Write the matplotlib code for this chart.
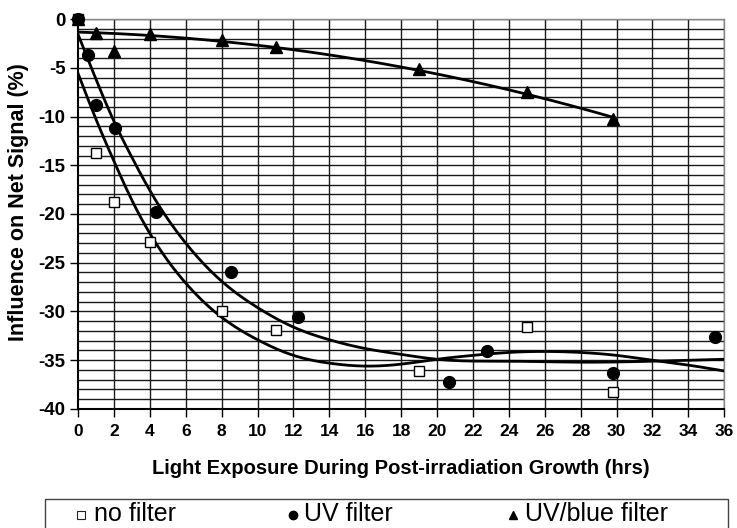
import numpy as np
import matplotlib
matplotlib.use("Agg")
import matplotlib.pyplot as plt
from matplotlib.lines import Line2D
from matplotlib.patches import Rectangle

plt.rcParams['font.family'] = ['Liberation Sans', 'DejaVu Sans']
plt.rcParams['axes.unicode_minus'] = False

# signal loss vs. light exposure, three filter conditions
x_nofilt = [0, 1.0, 2.0, 4.0, 8.0, 11.0, 19.0, 25.0, 29.8]
y_nofilt = [0, -13.7, -18.8, -22.9, -30.0, -31.9, -36.1, -31.6, -38.3]

x_uv = [0, 0.55, 1.0, 2.05, 4.35, 8.5, 12.25, 20.65, 22.8, 29.8, 35.5]
y_uv = [0, -3.7, -8.8, -11.2, -19.8, -25.9, -30.6, -37.2, -34.1, -36.3, -32.6]

x_blue = [0, 1.0, 2.0, 4.0, 8.0, 11.0, 19.0, 25.0, 29.8]
y_blue = [0, -1.4, -3.3, -1.5, -2.2, -2.9, -5.1, -7.5, -10.3]

# trend curves for the two filtered series
trend_x_nofilt = [0, 1, 2, 3, 4, 6, 8, 10, 12, 14, 16, 18, 20, 22, 24, 26,
                  28, 30, 32, 34, 36]
trend_nofilt = [-5.6, -10.3, -14.6, -18.6, -22.0, -27.1, -30.6, -32.9, -34.5,
                -35.3, -35.6, -35.4, -34.9, -34.5, -34.2, -34.1, -34.2, -34.5,
                -35.0, -35.5, -36.1]
trend_x_uv = [0, 1, 2, 3, 4, 6, 8, 10, 12, 14, 16, 18, 20, 24, 28, 32, 36]
trend_uv = [-1.6, -6.2, -10.5, -14.2, -17.6, -23.0, -26.9, -29.6, -31.6,
            -32.9, -33.8, -34.4, -34.9, -35.1, -35.2, -35.1, -34.9]

labels = ['no filter', 'UV filter', 'UV/blue filter']


def smooth(x, y, n=300):
    """natural cubic spline through (x, y)"""
    x, y = np.asarray(x, float), np.asarray(y, float)
    h = np.diff(x)
    k = len(x)
    A = np.zeros((k, k))
    r = np.zeros(k)
    A[0, 0] = A[-1, -1] = 1.
    for i in range(1, k - 1):
        A[i, i - 1] = h[i - 1]
        A[i, i] = 2. * (h[i - 1] + h[i])
        A[i, i + 1] = h[i]
        r[i] = 3. * ((y[i + 1] - y[i]) / h[i] - (y[i] - y[i - 1]) / h[i - 1])
    c = np.linalg.solve(A, r)
    b = (y[1:] - y[:-1]) / h - h * (2. * c[:-1] + c[1:]) / 3.
    d = (c[1:] - c[:-1]) / (3. * h)
    xx = np.linspace(x[0], x[-1], n)
    j = np.clip(np.searchsorted(x, xx) - 1, 0, k - 2)
    t = xx - x[j]
    return xx, y[j] + b[j] * t + c[j] * t ** 2 + d[j] * t ** 3


fig = plt.figure(figsize=(7.37, 5.28), dpi=100)
ax = fig.add_axes([0.106, 0.2254, 0.8766, 0.7386])

for v in np.arange(-40, 1, 1):
    ax.axhline(v, color='#1a1a1a', lw=1.0, zorder=1)
for v in np.arange(2, 37, 2):
    ax.axvline(v, color='#1a1a1a', lw=1.0, zorder=1)

xx, yy = smooth(trend_x_nofilt, trend_nofilt)
ax.plot(xx, yy, color='black', lw=2, zorder=3)
xx, yy = smooth(trend_x_uv, trend_uv)
ax.plot(xx, yy, color='black', lw=2, zorder=3)
# 2nd order polynomial trend for UV/blue
c = np.polyfit(x_blue, y_blue, 2)
xx = np.linspace(0, max(x_blue), 200)
ax.plot(xx, np.polyval(c, xx), color='black', lw=2, zorder=3)

ax.plot(x_nofilt, y_nofilt, ls='none', marker='s', ms=6.5, mfc='white',
        mec='black', mew=1.0, zorder=4, clip_on=False)
ax.plot(x_uv, y_uv, ls='none', marker='o', ms=8.5, color='black', zorder=5,
        clip_on=False)
ax.plot(x_blue, y_blue, ls='none', marker='^', ms=8.5, color='black', zorder=5,
        clip_on=False)

ax.set_xlim(0, 36)
ax.set_ylim(-40, 0)
ax.set_xticks(np.arange(0, 37, 2))
ax.set_yticks(np.arange(-40, 1, 5))
ax.tick_params(axis='both', direction='out', length=6, width=1)
ax.tick_params(axis='x', labelsize=12.5, pad=5)
ax.tick_params(axis='y', labelsize=13.5, pad=3)
for lab in ax.get_xticklabels() + ax.get_yticklabels():
    lab.set_fontweight('bold')
for s in ['left', 'bottom']:
    ax.spines[s].set_linewidth(1.5)
for s in ['top', 'right']:
    ax.spines[s].set_color('#888888')
    ax.spines[s].set_linewidth(1.0)

ax.set_xlabel('Light Exposure During Post-irradiation Growth (hrs)',
              fontsize=14.5, fontweight='bold', labelpad=14)
ax.set_ylabel('Influence on Net Signal (%)', fontsize=15.5, fontweight='bold')
ax.yaxis.set_label_coords(-0.0755, 0.53)

# legend strip along the bottom edge (frame runs off the figure)
W, H = 737., 528.
fig.add_artist(Rectangle((45 / W, -0.02), (728 - 45) / W, 0.02 + (H - 499) / H,
                         transform=fig.transFigure, fill=False,
                         edgecolor='#444444', lw=1.0))
styles = [dict(marker='s', ms=5.5, mfc='white', mec='#222222', mew=0.8),
          dict(marker='o', ms=6.0, color='black'),
          dict(marker='^', ms=6.0, color='black')]
mark_x = [81, 293, 513]
text_x = [94, 304, 525]
yl = (H - 515) / H
for st, mx, tx, lab in zip(styles, mark_x, text_x, labels):
    fig.add_artist(Line2D([mx / W], [yl], ls='none', transform=fig.transFigure, **st))
    fig.text(tx / W, (H - 521) / H, lab, fontsize=18, va='baseline', ha='left')

fig.savefig('out.png', dpi=100)
